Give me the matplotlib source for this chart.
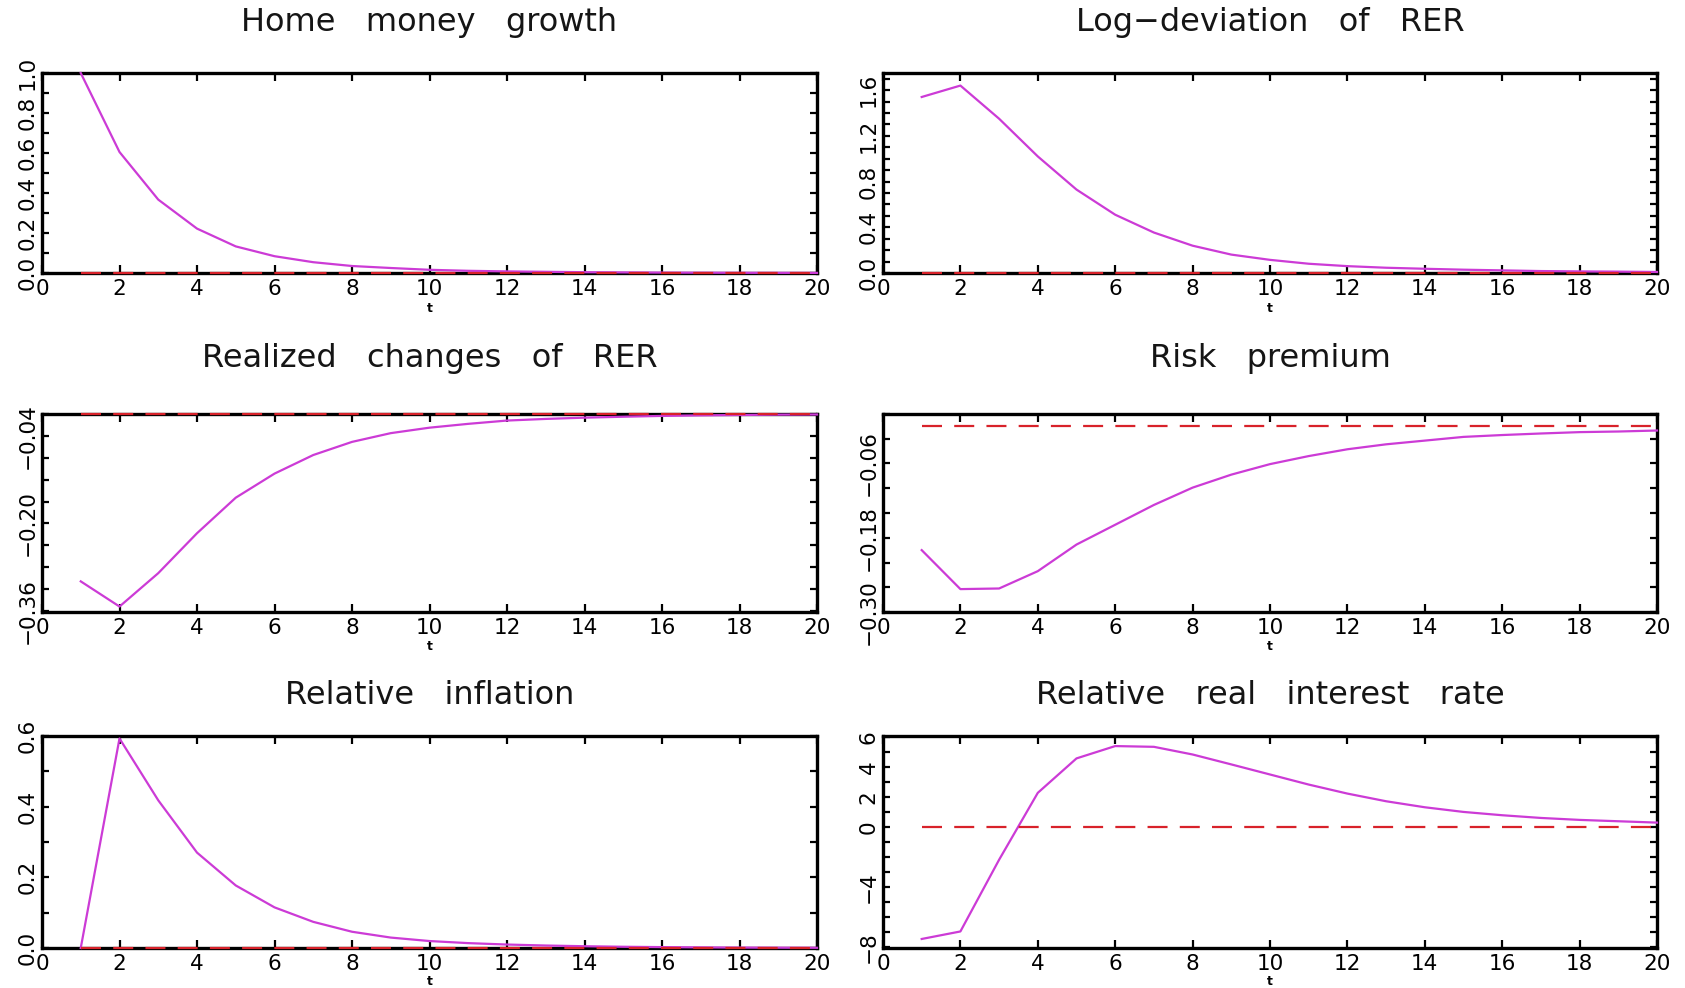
import matplotlib
matplotlib.use("Agg")
import matplotlib.pyplot as plt

MINUS = "\u2212"

t = list(range(1, 21))

money_growth = [1.00, 0.605, 0.367, 0.222, 0.133, 0.084, 0.054, 0.035, 0.025, 0.016,
                0.011, 0.008, 0.006, 0.004, 0.003, 0.002, 0.0015, 0.001, 0.0008, 0.0005]
rer_level = [1.54, 1.64, 1.35, 1.02, 0.73, 0.51, 0.354, 0.239, 0.161, 0.115,
             0.081, 0.060, 0.046, 0.037, 0.029, 0.023, 0.017, 0.014, 0.012, 0.009]
rer_change = [-0.306, -0.352, -0.291, -0.218, -0.153, -0.109, -0.075, -0.051, -0.035, -0.025,
              -0.018, -0.012, -0.009, -0.0067, -0.005, -0.0035, -0.0025, -0.0018, -0.0012, -0.0009]
risk_premium = [-0.200, -0.263, -0.262, -0.234, -0.191, -0.159, -0.127, -0.099, -0.078, -0.061,
                -0.048, -0.037, -0.029, -0.023, -0.017, -0.014, -0.0115, -0.0093, -0.0083, -0.0067]
rel_inflation = [0.0, 0.593, 0.418, 0.270, 0.177, 0.115, 0.074, 0.046, 0.0295, 0.0197,
                 0.0138, 0.0098, 0.007, 0.005, 0.0035, 0.0025, 0.0018, 0.0012, 0.0009, 0.0006]
rel_real_rate = [-7.45, -6.95, -2.18, 2.27, 4.56, 5.38, 5.33, 4.82, 4.16, 3.49,
                 2.82, 2.22, 1.71, 1.31, 1.00, 0.78, 0.60, 0.47, 0.38, 0.29]
baseline = [0.0] * len(t)

titles = ["Home   money   growth", "Log\u2212deviation   of   RER",
          "Realized   changes   of   RER", "Risk   premium",
          "Relative   inflation", "Relative   real   interest   rate"]
series = [money_growth, rer_level, rer_change, risk_premium, rel_inflation, rel_real_rate]

# y limits, tick positions and which ticks carry a label
ylims = [(0.0, 1.0), (0.0, 1.75), (-0.362, 0.0), (-0.30, 0.02), (0.0, 0.6), (-8.05, 6.05)]
yticks = [
    [round(0.1 * k, 2) for k in range(11)],
    [round(0.1 * k, 2) for k in range(18)],
    [round(-0.04 * k, 2) for k in range(10)],
    [round(0.02 - 0.04 * k, 2) for k in range(9)],
    [round(0.1 * k, 2) for k in range(7)],
    list(range(-8, 7)),
]
ylabeled = [
    {0.0: "0.0", 0.2: "0.2", 0.4: "0.4", 0.6: "0.6", 0.8: "0.8", 1.0: "1.0"},
    {0.0: "0.0", 0.4: "0.4", 0.8: "0.8", 1.2: "1.2", 1.6: "1.6"},
    {-0.04: MINUS + "0.04", -0.2: MINUS + "0.20", -0.36: MINUS + "0.36"},
    {-0.06: MINUS + "0.06", -0.18: MINUS + "0.18", -0.3: MINUS + "0.30"},
    {0.0: "0.0", 0.2: "0.2", 0.4: "0.4", 0.6: "0.6"},
    {-8: MINUS + "8", -4: MINUS + "4", 0: "0", 2: "2", 4: "4", 6: "6"},
]
xticks = list(range(0, 21, 2))

W, H = 1685, 988
cols = [(42, 817), (883, 1657)]
rows = [(73, 273), (414, 612), (736, 948)]
title_y = [23, 359, 695]
tlabel_y = [309, 646, 981]

fig = plt.figure(figsize=(W / 100, H / 100), dpi=100)
fig.patch.set_facecolor("white")

MAGENTA = "#cc3bd6"
RED = "#d8222a"
tick_font = "DejaVu Sans"

for i in range(6):
    r, c = divmod(i, 2)
    l, rr = cols[c]
    top, bot = rows[r]
    ax = fig.add_axes([l / W, 1 - bot / H, (rr - l) / W, (bot - top) / H])

    ax.plot(t, series[i], color=MAGENTA, lw=1.6, zorder=3, clip_on=False)
    ax.plot(t, baseline, color=RED, lw=1.6, dashes=(9, 5.5), zorder=3.5, clip_on=False)

    ax.set_xlim(0, 20)
    ax.set_ylim(*ylims[i])
    ax.set_xticks(xticks)
    ax.set_xticklabels([str(v) for v in xticks], fontsize=15.5, family=tick_font)
    pos = yticks[i]
    labs = [ylabeled[i].get(round(p, 2) if isinstance(p, float) else p, "") for p in pos]
    ax.set_yticks(pos)
    ax.set_yticklabels(labs, fontsize=15.5, family=tick_font, rotation=90, va="center")

    ax.tick_params(axis="x", direction="in", top=True, bottom=True, length=6, width=1.6, pad=4)
    ax.tick_params(axis="y", direction="in", left=True, right=True, length=5, width=1.6, pad=3)
    for sp in ax.spines.values():
        sp.set_linewidth(2.4)
        sp.set_color("black")

    cx = (l + rr) / 2
    fig.text(cx / W, 1 - title_y[r] / H, titles[i], ha="center", va="center",
             fontsize=23, family="DejaVu Sans", color="#151515")
    fig.text(cx / W, 1 - tlabel_y[r] / H, "t", ha="center", va="center",
             fontsize=9, fontweight="bold", family="DejaVu Sans")

fig.savefig("out.png", dpi=100, facecolor="white")
